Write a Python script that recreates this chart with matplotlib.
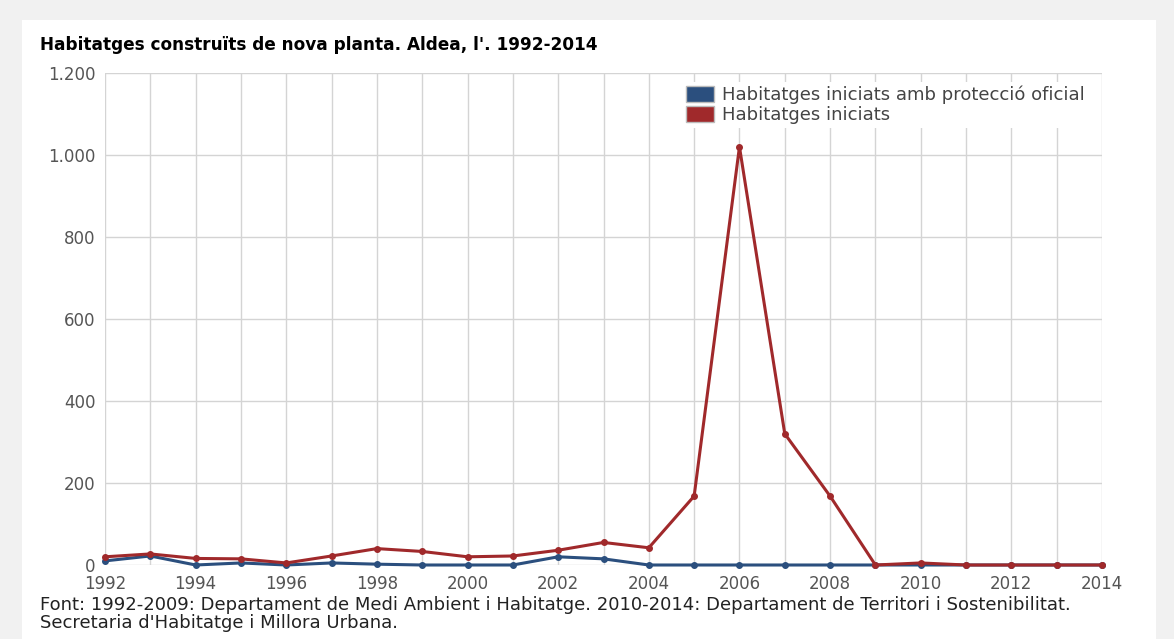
import matplotlib.pyplot as plt
import matplotlib.patches as mpatches
from matplotlib.ticker import FuncFormatter

plt.rcParams['font.family'] = ['DejaVu Sans']

years = list(range(1992, 2015))
vpo = [10, 22, 0, 5, 0, 5, 2, 0, 0, 0, 20, 15, 0, 0, 0, 0, 0, 0, 0, 0, 0, 0, 0]
iniciats = [20, 27, 16, 15, 5, 22, 40, 33, 20, 22, 36, 55, 42, 168, 1020, 320, 168, 0, 5, 0, 0, 0, 0]

labels = ["Habitatges iniciats amb protecció oficial", "Habitatges iniciats"]
title = "Habitatges construïts de nova planta. Aldea, l'. 1992-2014"
font_note = ("Font: 1992-2009: Departament de Medi Ambient i Habitatge. 2010-2014: Departament de Territori i Sostenibilitat.\n"
             "Secretaria d'Habitatge i Millora Urbana.")

blue = "#2b4f7e"
red = "#a0292b"

W, H = 1174, 639
fig = plt.figure(figsize=(W / 100, H / 100), dpi=100, facecolor="#f1f1f1")
# white panel behind everything
bg = fig.add_axes([22 / W, 0, (1156 - 22) / W, 1 - 20 / H], zorder=-10)
bg.set_facecolor("white")
bg.set_xticks([])
bg.set_yticks([])
for s in bg.spines.values():
    s.set_visible(False)

ax = fig.add_axes([105 / W, 1 - 565 / H, (1102 - 105) / W, (565 - 73) / H])
ax.set_facecolor("white")

ax.plot(years, vpo, color=blue, lw=2.2, marker="o", ms=4, clip_on=False, zorder=3)
ax.plot(years, iniciats, color=red, lw=2.2, marker="o", ms=4, clip_on=False, zorder=4)

ax.set_xlim(1992, 2014)
ax.set_ylim(0, 1200)
ax.set_xticks(years, minor=True)
ax.set_xticks(range(1992, 2015, 2))
ax.yaxis.set_major_formatter(FuncFormatter(lambda v, p: f"{int(v):,}".replace(",", ".")))
ax.set_yticks(range(0, 1201, 200))
ax.grid(True, which="both", axis="x", color="#d4d4d4", lw=1)
ax.grid(True, which="major", axis="y", color="#d4d4d4", lw=1)
ax.set_axisbelow(True)
for s in ax.spines.values():
    s.set_visible(False)
ax.tick_params(which="both", length=0, labelsize=12, labelcolor="#555555")
ax.tick_params(axis="x", pad=7.5)
ax.tick_params(axis="y", pad=7)

handles = [mpatches.Patch(facecolor=blue, edgecolor="#bbbbbb"),
           mpatches.Patch(facecolor=red, edgecolor="#bbbbbb")]
leg = ax.legend(handles, labels, loc="upper right", bbox_to_anchor=(0.995, 1.0),
                frameon=True, fontsize=13, handlelength=1.55, handleheight=1.0,
                handletextpad=0.4, labelspacing=0.1, borderpad=0.2)
leg.get_frame().set_facecolor("white")
leg.get_frame().set_edgecolor("none")
leg.get_frame().set_alpha(1)
for t in leg.get_texts():
    t.set_color("#444444")

fig.text(40 / W, 1 - 45 / H, title, fontsize=12.2, fontweight="bold", va="center", ha="left")
fig.text(40 / W, 1 - 614 / H, font_note, fontsize=13, va="center", ha="left",
         linespacing=0.95, color="#222222")

fig.savefig("out.png", dpi=100, facecolor=fig.get_facecolor())
